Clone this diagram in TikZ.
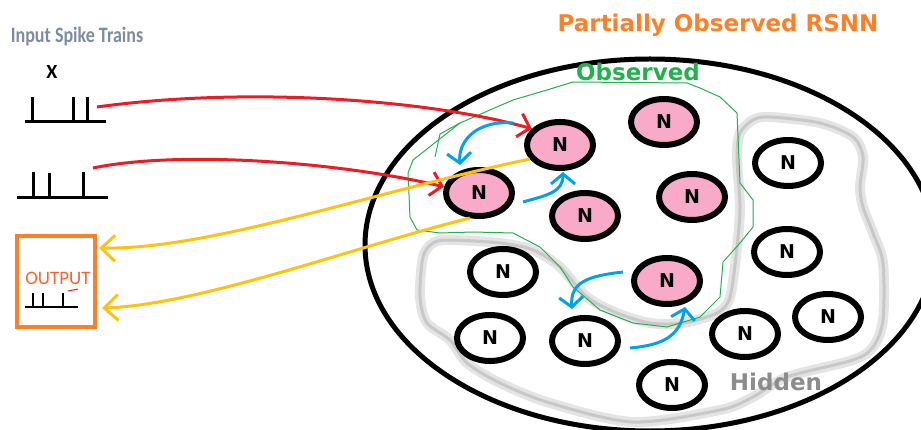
\documentclass[tikz,border=0pt]{standalone}
\usepackage{fontspec}
\setmainfont{DejaVu Sans}
\newfontfamily\calib{Carlito}
\usetikzlibrary{arrows.meta,shapes.geometric}
\definecolor{npink}{RGB}{248,170,200}
\definecolor{cred}{RGB}{237,28,36}
\definecolor{cyel}{RGB}{255,194,14}
\definecolor{cblue}{RGB}{0,162,232}
\definecolor{cgreen}{RGB}{34,177,76}
\definecolor{corange}{RGB}{255,127,39}
\definecolor{cout}{RGB}{245,100,50}
\definecolor{chid}{RGB}{140,140,140}
\definecolor{cin}{RGB}{125,140,160}
\definecolor{gfuzz}{RGB}{228,228,228}
\definecolor{gcore}{RGB}{200,200,200}
\begin{document}
\begin{tikzpicture}[x=1pt,y=-1pt,
  neuron/.style={ellipse, draw=black, line width=6pt, minimum width=66pt, minimum height=46pt, inner sep=0pt, font=\fontsize{19}{19}\selectfont\bfseries, text=black},
  obs/.style={neuron, fill=npink},
  hid/.style={neuron, fill=white},
  spk/.style={line width=3pt, black},
  spksmall/.style={line width=1.5pt, black},
  redarr/.style={draw=cred, line width=3pt, -{Straight Barb[length=11pt,width=24pt]}},
  yelarr/.style={draw=cyel, line width=3pt, -{Straight Barb[length=14pt,width=26pt]}},
  bluearr/.style={draw=cblue, line width=3pt, -{Straight Barb[length=10pt,width=24pt]}},
  lbl/.style={font=\fontsize{23}{23}\selectfont\bfseries, inner sep=0pt}
]
\useasboundingbox (0,0) rectangle (921,430);

% big network boundary
\node[ellipse, draw=black, line width=5pt, minimum width=570pt, minimum height=372pt, inner sep=0pt] (net) at (650,245) {};

% hidden region outline (fuzzy gray)
\draw[gfuzz, line width=10pt] plot[smooth cycle, tension=0.5] coordinates {
 (753,120) (770,117) (820,123) (853,137) (863,157) (860,187) (863,207) (873,233)
 (883,263) (883,320) (873,347) (853,360) (787,377) (753,397) (720,410) (633,422)
 (550,403) (500,383) (467,363) (450,340) (427,323) (420,297) (423,257) (433,243)
 (450,240) (500,243) (533,250) (560,267) (587,297) (617,313) (650,323) (683,323)
 (717,313) (730,297) (737,247) (740,207) (737,157) (740,133)};
\draw[gcore, line width=3pt] plot[smooth cycle, tension=0.5] coordinates {
 (753,120) (770,117) (820,123) (853,137) (863,157) (860,187) (863,207) (873,233)
 (883,263) (883,320) (873,347) (853,360) (787,377) (753,397) (720,410) (633,422)
 (550,403) (500,383) (467,363) (450,340) (427,323) (420,297) (423,257) (433,243)
 (450,240) (500,243) (533,250) (560,267) (587,297) (617,313) (650,323) (683,323)
 (717,313) (730,297) (737,247) (740,207) (737,157) (740,133)};

% observed region outline (thin green)
\draw[cgreen, line width=1pt] (460,123) -- (490,110) -- (513,100) -- (547,90) -- (573,82)
 -- (687,83) -- (700,88) -- (720,97) -- (737,113) -- (740,183) -- (753,200) -- (753,227)
 -- (740,243) -- (723,262) -- (720,297) -- (700,317) -- (667,327) -- (633,323)
 -- (600,310) -- (573,287) -- (560,267) -- (540,247) -- (513,233) -- (473,232)
 -- (440,233) -- (417,230) -- (410,217) -- (408,173) -- (413,160) -- cycle;
\draw[cgreen, line width=1pt] (460,123) -- (440,134) -- (435,157);

% labels
\node[lbl, text=corange] (title) at (718,25) {Partially Observed RSNN};
\node[lbl, text=cgreen] (obslbl) at (638,72) {Observed};
\node[lbl, text=chid] (hidlbl) at (776,382) {Hidden};
\node[font=\calib\bfseries\fontsize{22}{22}\selectfont, text=cin, inner sep=0pt] (intitle) at (77,37) {\scalebox{0.82}[1]{Input Spike Trains}};
\node[font=\calib\bfseries\fontsize{20}{20}\selectfont, inner sep=0pt] (xlbl) at (52,72) {X};

% observed neurons
\node[obs] (n1) at (560,145) {N};
\node[obs] (n2) at (664,122) {N};
\node[obs] (n3) at (479,193) {N};
\node[obs] (n4) at (585,216) {N};
\node[obs] (n5) at (692,197) {N};
\node[obs] (n6) at (667,281) {N};
% hidden neurons
\node[hid] (h1) at (788,163) {N};
\node[hid] (h2) at (787,252) {N};
\node[hid] (h3) at (503,272) {N};
\node[hid] (h4) at (490,338) {N};
\node[hid] (h5) at (585,341) {N};
\node[hid] (h6) at (745,334) {N};
\node[hid] (h7) at (828,317) {N};
\node[hid] (h8) at (672,385) {N};

% input spike trains
\draw[spk] (25,122) -- (106,122);
\draw[spk] (32,97) -- (32,122) (73,97) -- (73,122) (87,97) -- (87,122);
\draw[spk] (17,198) -- (108,198);
\draw[spk] (33,172) -- (33,198) (49,173) -- (49,198) (83,172) -- (83,198);
\coordinate (in1) at (97,107);
\coordinate (in2) at (93,168);

% output box
\node[draw=corange, line width=4pt, minimum width=78pt, minimum height=91pt, inner sep=0pt] (out) at (56,282) {};
\node[font=\calib\fontsize{19}{19}\selectfont, text=cout, inner sep=0pt] (outlbl) at (58,278) {OUTPUT};
\draw[spksmall] (25,307) -- (78,307);
\draw[spksmall] (33,293) -- (33,307) (43,293) -- (43,307) (63,293) -- (63,307);
\draw[cred, line width=1pt] (68,291) -- (78,289);
\coordinate (o1) at (99,248);
\coordinate (o2) at (102,308);

% input connections (red)
\draw[redarr] (in1) .. controls (250,86) and (430,100) .. (n1.150);
\draw[redarr] (in2) .. controls (180,150) and (340,162) .. (n3.170);

% output connections (yellow)
\draw[yelarr] (n1.205) .. controls (380,190) and (210,250) .. (o1);
\draw[yelarr] (n3.250) .. controls (360,245) and (200,305) .. (o2);

% recurrent connections (blue)
\coordinate (b1s) at (513,123);
\coordinate (b1e) at (460,165);
\coordinate (b2s) at (523,202);
\coordinate (b2e) at (563,172);
\coordinate (b3s) at (623,272);
\coordinate (b3e) at (572,309);
\coordinate (b4s) at (630,348);
\coordinate (b4e) at (685,307);
\draw[bluearr] (b1s) .. controls (478,120) and (458,140) .. (b1e);
\draw[bluearr] (b2s) .. controls (548,195) and (563,192) .. (b2e);
\draw[bluearr] (b3s) .. controls (588,276) and (570,282) .. (b3e);
\draw[bluearr] (b4s) .. controls (665,345) and (680,335) .. (b4e);
\end{tikzpicture}
\end{document}
